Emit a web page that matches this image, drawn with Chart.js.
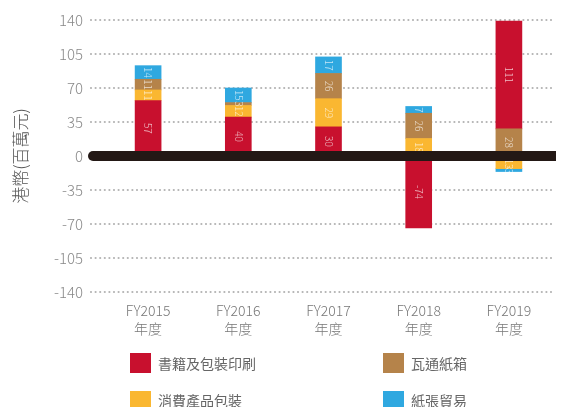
<!DOCTYPE html>
<html>
<head>
<meta charset="utf-8">
<script src="https://cdn.jsdelivr.net/npm/chart.js@4/dist/chart.umd.min.js"></script>
<style>
  html,body{margin:0;padding:0;background:#fff;}
  #wrap{position:relative;width:561px;height:407px;overflow:hidden;}
  canvas{position:absolute;left:0;top:0;}
  .lg{position:absolute;font-family:"Noto Sans CJK TC","Noto Sans",sans-serif;font-size:14px;color:#666;line-height:20px;white-space:nowrap;}
  .sw{position:absolute;width:21px;height:20px;}
</style>
</head>
<body>
<div id="wrap">
  <canvas id="c" width="561" height="407"></canvas>
  <div class="sw" style="left:130px;top:353px;background:#C8102E"></div>
  <div class="lg" style="left:158px;top:353px;">書籍及包裝印刷</div>
  <div class="sw" style="left:383px;top:353px;background:#B5834A"></div>
  <div class="lg" style="left:411px;top:353px;">瓦通紙箱</div>
  <div class="sw" style="left:130px;top:391px;background:#FAB731"></div>
  <div class="lg" style="left:158px;top:390px;">消費產品包裝</div>
  <div class="sw" style="left:383px;top:391px;background:#2FA8E0"></div>
  <div class="lg" style="left:411px;top:390px;">紙張貿易</div>
</div>
<script>
// ---- data ----
const categories = [['FY2015','年度'],['FY2016','年度'],['FY2017','年度'],['FY2018','年度'],['FY2019','年度']];
const books       = [57, 40, 30, -74, 111];   // 書籍及包裝印刷
const consumer    = [11, 12, 29, 18, -13];    // 消費產品包裝
const corrugated  = [11, 3, 26, 26, 28];      // 瓦通紙箱
const paperTrade  = [14, 15, 17, 7, -3];      // 紙張貿易
// in FY2019 the books segment sits on top of corrugated
const booksOnTop  = [false, false, false, false, true];
const yTicks = [-140, -105, -70, -35, 0, 35, 70, 105, 140];

const colors = {books:'#C8102E', consumer:'#FAB731', corrugated:'#B5834A', paper:'#2FA8E0'};

const booksBelow = books.map((v,i)=> booksOnTop[i] ? null : v);
const booksAbove = books.map((v,i)=> booksOnTop[i] ? v : null);

const gridPlugin = {
  id:'dotGrid',
  beforeDatasetsDraw(chart){
    const ctx = chart.ctx, y = chart.scales.y, area = chart.chartArea;
    ctx.save();
    ctx.strokeStyle = '#b3b3b3';
    ctx.lineWidth = 2.2;
    ctx.lineCap = 'round';
    ctx.setLineDash([0, 4.6]);
    y.ticks.forEach(t=>{
      if (t.value === 0) return;
      const py = Math.round(y.getPixelForValue(t.value));
      ctx.beginPath();
      ctx.moveTo(91, py);
      ctx.lineTo(area.right, py);
      ctx.stroke();
    });
    ctx.restore();
  },
  afterDatasetsDraw(chart){
    const ctx = chart.ctx, y = chart.scales.y, area = chart.chartArea;
    // value labels
    ctx.save();
    ctx.font = '300 10px "Noto Sans CJK TC", "Noto Sans", sans-serif';
    ctx.fillStyle = 'rgba(255,255,255,0.72)';
    ctx.textAlign = 'center';
    ctx.textBaseline = 'middle';
    chart.data.datasets.forEach((ds, di)=>{
      const meta = chart.getDatasetMeta(di);
      meta.data.forEach((el, i)=>{
        const v = ds.data[i];
        if (v === null || v === undefined) return;
        const cy = (el.y + el.base)/2;
        ctx.save();
        ctx.translate(el.x, cy);
        ctx.rotate(Math.PI/2);
        ctx.fillText(String(v), 0, 0);
        ctx.restore();
      });
    });
    ctx.restore();
    // zero line
    const z = y.getPixelForValue(0);
    ctx.save();
    ctx.fillStyle = '#231815';
    const h = 10, x0 = 88, x1 = area.right + 2;
    ctx.beginPath();
    ctx.moveTo(x1, z - h/2);
    ctx.lineTo(x0 + h/2, z - h/2);
    ctx.arc(x0 + h/2, z, h/2, -Math.PI/2, Math.PI/2, true);
    ctx.lineTo(x1, z + h/2);
    ctx.closePath();
    ctx.fill();
    ctx.restore();
  }
};

const barCommon = {barThickness:26, borderWidth:0, stack:'s'};

new Chart(document.getElementById('c'), {
  type:'bar',
  data:{
    labels: categories,
    datasets:[
      {...barCommon, label:'書籍及包裝印刷', data: booksBelow, backgroundColor: colors.books},
      {...barCommon, label:'消費產品包裝', data: consumer, backgroundColor: colors.consumer},
      {...barCommon, label:'瓦通紙箱', data: corrugated, backgroundColor: colors.corrugated},
      {...barCommon, label:'書籍及包裝印刷 ', data: booksAbove, backgroundColor: colors.books},
      {...barCommon, label:'紙張貿易', data: paperTrade, backgroundColor: colors.paper}
    ]
  },
  options:{
    responsive:false,
    animation:false,
    layout:{padding:{top:20, right:7, bottom:0, left:0}},
    plugins:{legend:{display:false}, tooltip:{enabled:false}},
    scales:{
      x:{
        stacked:true,
        offset:true,
        grid:{display:false, drawTicks:false},
        border:{display:false},
        ticks:{color:'#777', padding:10, font:{family:'"Noto Sans CJK TC", "Noto Sans", sans-serif', size:14, weight:'300', lineHeight:1.25}},
        afterFit(s){ s.height = 115; }
      },
      y:{
        stacked:true,
        min:-140, max:140,
        afterBuildTicks(s){ s.ticks = yTicks.map(v=>({value:v})); },
        grid:{display:false, drawTicks:false},
        border:{display:false},
        ticks:{color:'#888', padding:20, font:{family:'"Noto Sans CJK TC", "Noto Sans", sans-serif', size:15, weight:'300'}},
        title:{display:true, text:'港幣(百萬元)', color:'#555', padding:{top:10, bottom:0}, font:{family:'"Noto Sans CJK TC", sans-serif', size:17, weight:'300'}},
        afterFit(s){ s.width = 103; s.paddingTop = 0; s.paddingBottom = 0; }
      }
    }
  },
  plugins:[gridPlugin]
});
</script>
</body>
</html>
